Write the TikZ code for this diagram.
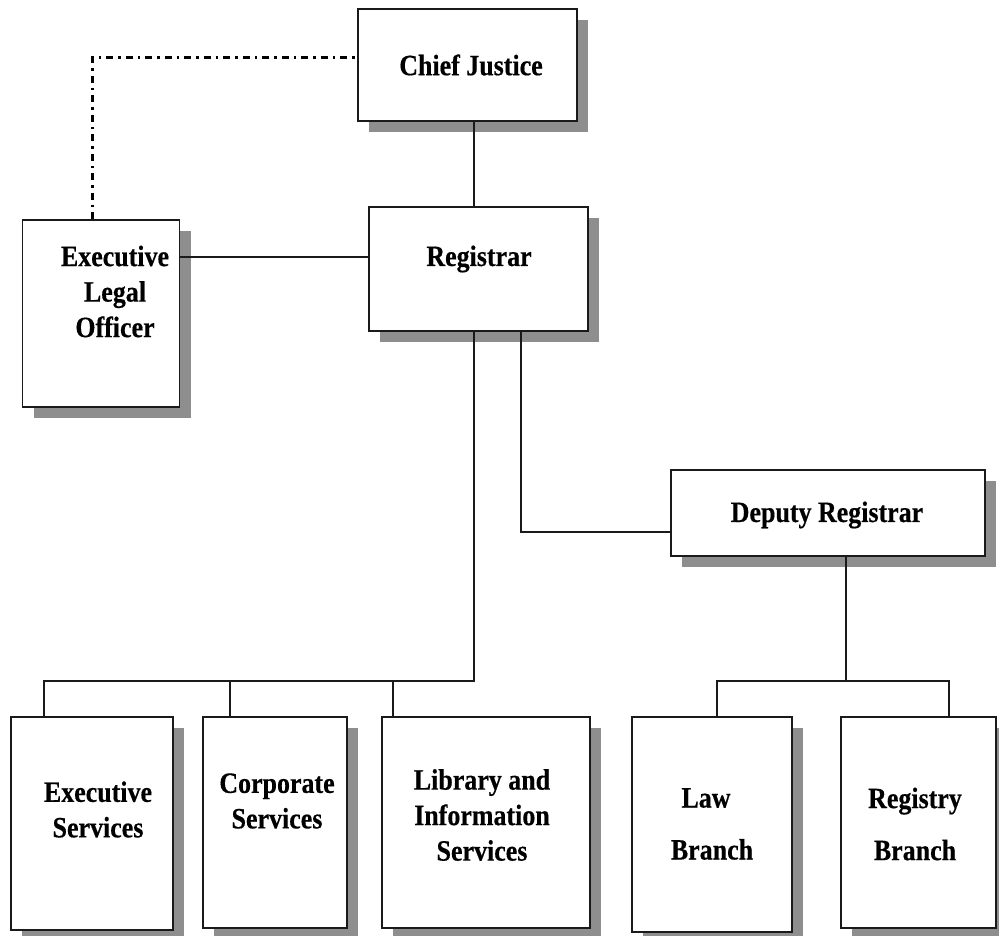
\documentclass[tikz,border=0pt]{standalone}
\usepackage{fontspec}
\setmainfont{Liberation Serif}[FakeStretch=0.88, FakeBold=0.4]
\usetikzlibrary{shadows}
\definecolor{linec}{HTML}{1A1A1A}
\definecolor{shadowc}{HTML}{8E8E8E}
\begin{document}
\begin{tikzpicture}[x=1pt,y=-1pt,
  box/.style={draw=linec, line width=1.9pt, fill=white, inner sep=0pt,
    general shadow={fill=shadowc, draw=none, shadow xshift=11pt, shadow yshift=-11pt}},
  lbl/.style={font=\fontsize{29.5}{35.5}\selectfont\bfseries, align=center, inner sep=0pt, text=black},
  conn/.style={draw=linec, line width=1.4pt},
  dashdot/.style={draw=black, line width=3pt, dash pattern=on 7pt off 5pt on 2.5pt off 5pt}
]
\useasboundingbox (0,0) rectangle (999,936);

% boxes
\node[box, minimum width=219pt, minimum height=112pt] (cj)   at (467.5,65)   {};
\node[box, minimum width=219pt, minimum height=124pt] (reg)  at (478.5,269)  {};
\node[box, minimum width=157pt, minimum height=187pt] (elo)  at (101,313.5)  {};
\node[box, minimum width=314pt, minimum height=86pt]  (dep)  at (828,513)    {};
\node[box, minimum width=162pt, minimum height=213pt] (exs)  at (92,823.5)   {};
\node[box, minimum width=144pt, minimum height=211pt] (corp) at (275,822.5)  {};
\node[box, minimum width=208pt, minimum height=211pt] (lib)  at (486,822.5)  {};
\node[box, minimum width=160pt, minimum height=215pt] (law)  at (712,824.5)  {};
\node[box, minimum width=155pt, minimum height=211pt] (rgb)  at (918.5,822.5){};

% texts
\node[lbl] (cj-t)   at (471,65)    {Chief Justice};
\node[lbl] (reg-t)  at (479,259)   {Registrar};
\node[lbl] (elo-t)  at (115,291.5) {Executive\\Legal\\Officer};
\node[lbl] (dep-t)  at (827,515)   {Deputy Registrar};
\node[lbl] (exs-t)  at (98,809.5)  {Executive\\Services};
\node[lbl] (corp-t) at (277,801)   {Corporate\\Services};
\node[lbl] (lib-t)  at (482,815)   {Library and\\Information\\Services};
\node[lbl, font=\fontsize{29.5}{52}\selectfont\bfseries] (law-t) at (712,824) {Law\hspace*{12pt}\\Branch};
\node[lbl, font=\fontsize{29.5}{52}\selectfont\bfseries] (rgb-t) at (915,824) {Registry\\Branch};

% helper coordinates
\coordinate (xa) at (474,0);
\coordinate (ya) at (0,257);
\coordinate (dd) at (92,58);
\coordinate (j0) at (474,681);
\coordinate (j1) at (44,681);
\coordinate (j2) at (230,681);
\coordinate (j3) at (393,681);
\coordinate (rd) at (521,532);
\coordinate (k0) at (846,681);
\coordinate (k1) at (717,681);
\coordinate (k2) at (949,681);

% connectors
\draw[conn] (cj.south -| xa) -- (reg.north -| xa);
\draw[conn] (elo.east |- ya) -- (reg.west |- ya);
\draw[dashdot] (elo.north -| dd) -- (dd) -- (cj.west |- dd);
\draw[conn] (reg.south -| j0) -- (j0) -- (j1) -- (exs.north -| j1);
\draw[conn] (j2) -- (corp.north -| j2);
\draw[conn] (j3) -- (lib.north -| j3);
\draw[conn] (reg.south -| rd) -- (rd) -- (dep.west |- rd);
\draw[conn] (dep.south -| k0) -- (k0);
\draw[conn] (law.north -| k1) -- (k1) -- (k2) -- (rgb.north -| k2);
\end{tikzpicture}
\end{document}
